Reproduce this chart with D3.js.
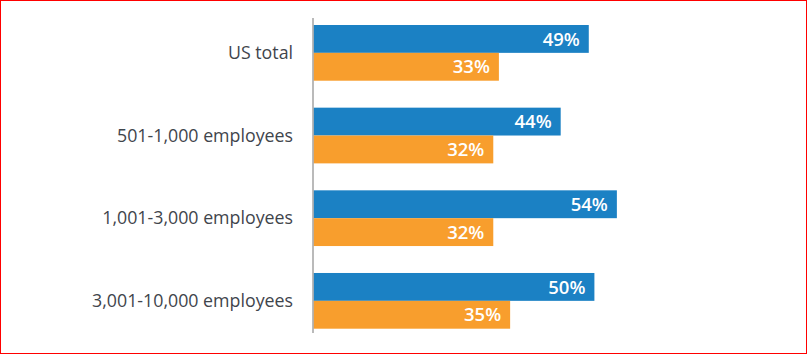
<!DOCTYPE html>
<html>
<head>
<meta charset="utf-8">
<script src="https://cdn.jsdelivr.net/npm/d3@7"></script>
<style>
  html, body { margin: 0; padding: 0; background: #fff; }
  svg { display: block; }
</style>
</head>
<body>
<svg id="chart" width="807" height="354"></svg>
<script>
const categories = ["US total", "501-1,000 employees", "1,001-3,000 employees", "3,001-10,000 employees"];
const seriesNames = ["blue", "orange"];
const blueValues = [49, 44, 54, 50];
const orangeValues = [33, 32, 32, 35];
const seriesColors = ["#1b81c4", "#f89e2d"];

const svg = d3.select("#chart");

// border
svg.append("rect").attr("x", 0.5).attr("y", 0.5).attr("width", 806).attr("height", 353)
  .attr("fill", "none").attr("stroke", "#ff0000").attr("stroke-width", 1);

const x0 = 313.5;
const x = d3.scaleLinear().domain([0, 100]).range([x0, x0 + 561.8]);
const y = d3.scaleBand().domain(categories).range([25, 328.7]).paddingInner(0.326).paddingOuter(0);
const ySub = d3.scaleBand().domain(seriesNames).range([0, y.bandwidth()]).padding(0);

const rows = categories.map((c, i) => ({
  cat: c,
  vals: [{ s: "blue", v: blueValues[i] }, { s: "orange", v: orangeValues[i] }]
}));

const g = svg.append("g");
const grp = g.selectAll("g.row").data(rows).join("g")
  .attr("class", "row")
  .attr("transform", d => `translate(0,${y(d.cat)})`);

grp.selectAll("rect").data(d => d.vals).join("rect")
  .attr("x", x(0))
  .attr("y", d => ySub(d.s))
  .attr("width", d => x(d.v) - x(0))
  .attr("height", ySub.bandwidth())
  .attr("fill", (d, i) => seriesColors[i]);

grp.selectAll("text.val").data(d => d.vals).join("text")
  .attr("class", "val")
  .attr("x", d => x(d.v) - 9)
  .attr("y", d => ySub(d.s) + ySub.bandwidth() / 2)
  .attr("dy", "0.36em")
  .attr("text-anchor", "end")
  .attr("fill", "#ffffff")
  .attr("font-family", "'Open Sans', sans-serif")
  .attr("font-weight", 600)
  .attr("font-size", 18.5)
  .text(d => d.v + "%");

// category labels
g.selectAll("text.cat").data(categories).join("text")
  .attr("class", "cat")
  .attr("x", 293)
  .attr("y", d => y(d) + y.bandwidth() / 2)
  .attr("dy", "0.35em")
  .attr("text-anchor", "end")
  .attr("fill", "#3f454c")
  .attr("font-family", "'Open Sans', sans-serif")
  .attr("font-size", 17.8)
  .text(d => d);

// axis line
svg.append("line").attr("x1", 313).attr("x2", 313).attr("y1", 18).attr("y2", 333)
  .attr("stroke", "#a3a3a3").attr("stroke-width", 1.5);
</script>
</body>
</html>
